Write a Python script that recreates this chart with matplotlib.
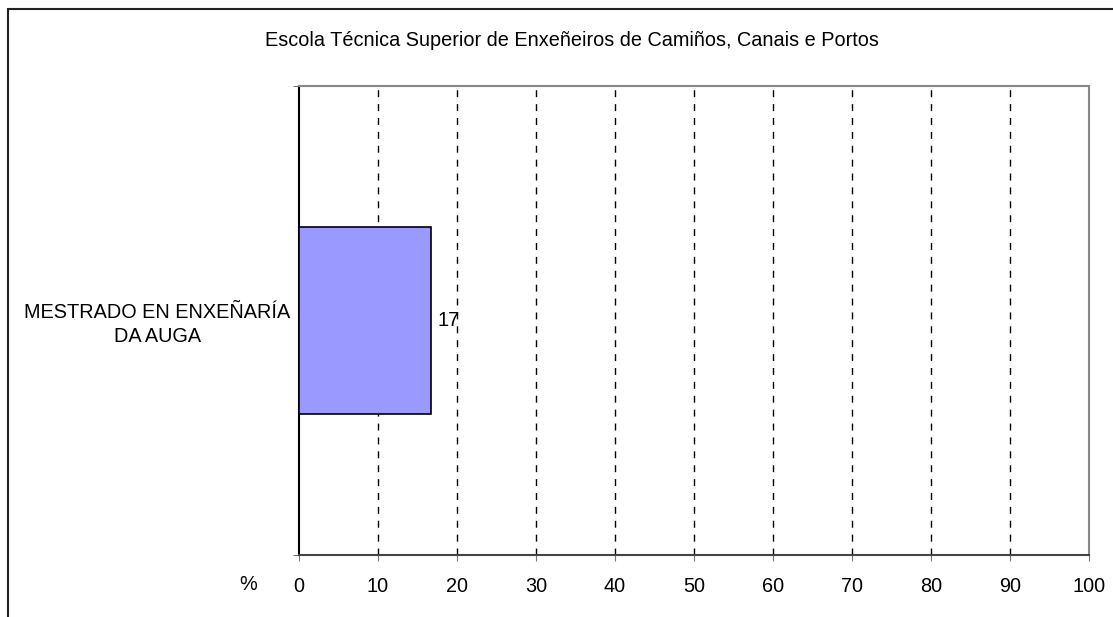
import matplotlib
matplotlib.use('Agg')
import matplotlib.pyplot as plt
from matplotlib.patches import Rectangle

plt.rcParams['font.family'] = ['Liberation Sans', 'DejaVu Sans']

title = 'Escola Técnica Superior de Enxeñeiros de Camiños, Canais e Portos'
categories = ['MESTRADO EN ENXEÑARÍA\nDA AUGA']
values = [16.7]
value_labels = ['17']
xticks = [0, 10, 20, 30, 40, 50, 60, 70, 80, 90, 100]

fs = 14.3
fig = plt.figure(figsize=(11.13, 6.17), dpi=100)
ax = fig.add_axes([299/1113, 1 - 555/617, 790/1113, 469/617])

# frame round the whole chart (cut off at right and bottom, as in the original)
fig.patches.append(Rectangle((8/1113, -0.1), 1.2, 1 - 9/617 + 0.1, transform=fig.transFigure,
                             fill=False, edgecolor='#222222', linewidth=1.5, clip_on=False))

ax.barh(range(len(categories)), values, height=0.4, color='#9999FF', edgecolor='black', linewidth=1.2, zorder=3)
for i, (v, lab) in enumerate(zip(values, value_labels)):
    ax.text(v + 0.8, i, lab, va='center', ha='left', fontsize=fs)

ax.set_xlim(0, 100)
ax.set_ylim(-0.5, 0.5)
ax.set_xticks(xticks)
ax.set_xticklabels([str(t) for t in xticks], fontsize=fs)
ax.set_yticks(range(len(categories)))
ax.set_yticklabels(categories, fontsize=fs, ha='center', multialignment='center', linespacing=1.3)
ax.tick_params(axis='y', which='major', length=0, pad=102)
ax.set_yticks([-0.5, 0.5], minor=True)
ax.tick_params(axis='y', which='minor', length=4, color='#555555', direction='out')
ax.tick_params(axis='x', length=4, color='#777777', direction='out', pad=12)

for x in xticks[1:-1]:
    ax.axvline(x, color='black', linestyle=(0, (5, 5)), linewidth=1, zorder=1)

ax.spines['left'].set_color('black')
ax.spines['bottom'].set_color('#444444')
ax.spines['top'].set_color('#888888')
ax.spines['right'].set_color('#888888')
for s in ax.spines.values():
    s.set_linewidth(1.5)

fig.text(248/1113, 1 - 584/617, '%', ha='center', va='center', fontsize=fs)
fig.text(572/1113, 1 - 40/617, title, ha='center', va='center', fontsize=fs)

fig.savefig('out.png', dpi=100)
